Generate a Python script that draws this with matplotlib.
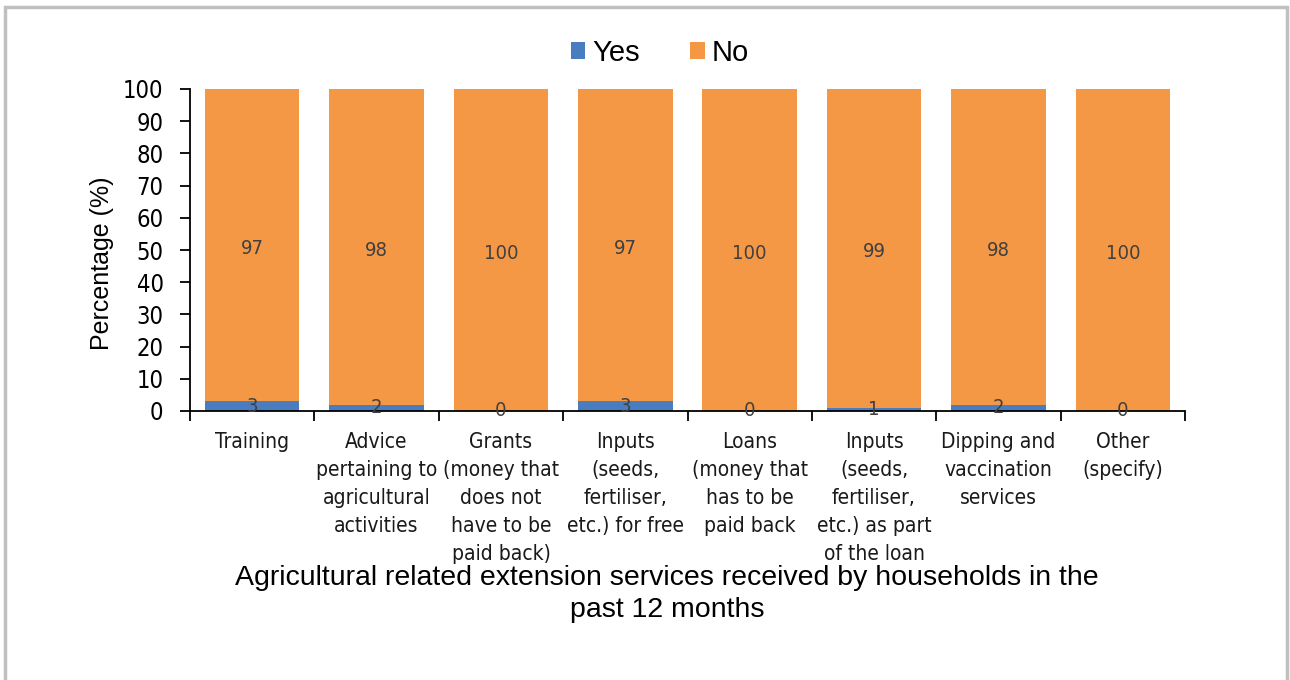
import matplotlib
matplotlib.use("Agg")
import matplotlib.pyplot as plt
from matplotlib.patches import Rectangle
import numpy as np

categories = [
    "Training",
    "Advice\npertaining to\nagricultural\nactivities",
    "Grants\n(money that\ndoes not\nhave to be\npaid back)",
    "Inputs\n(seeds,\nfertiliser,\netc.) for free",
    "Loans\n(money that\nhas to be\npaid back",
    "Inputs\n(seeds,\nfertiliser,\netc.) as part\nof the loan",
    "Dipping and\nvaccination\nservices",
    "Other\n(specify)",
]
yes_vals = [3, 2, 0, 3, 0, 1, 2, 0]
no_vals = [97, 98, 100, 97, 100, 99, 98, 100]
yticks = list(range(0, 101, 10))

blue = "#4A7DC0"
orange = "#F59845"
label_col = "#404040"

fig = plt.figure(figsize=(12.9, 6.8), dpi=100)
ax = fig.add_axes([190/1290, 1-411/680, (1185-190)/1290, (411-89)/680])

x = np.arange(len(categories))
w = 0.76
b1 = ax.bar(x, yes_vals, w, color=blue, label="Yes")
b2 = ax.bar(x, no_vals, w, bottom=yes_vals, color=orange, label="No")

for xi, v in zip(x, yes_vals):
    ax.text(xi, v/2, f"{v}", ha="center", va="center", fontsize=14.5,
            color=label_col, fontstretch="condensed")
for xi, y0, v in zip(x, yes_vals, no_vals):
    ax.text(xi, y0 + v/2 - 1, f"{v}", ha="center", va="center", fontsize=14.5,
            color=label_col, fontstretch="condensed")

ax.set_xlim(-0.5, len(categories)-0.5)
ax.set_ylim(0, 100)
ax.set_yticks(yticks)
ax.set_yticklabels([str(t) for t in yticks], fontsize=17, fontstretch="condensed")
ax.set_xticks(np.arange(len(categories)+1) - 0.5)
ax.set_xticklabels([])
ax.tick_params(axis="x", length=7, width=1.3, direction="out")
ax.tick_params(axis="y", length=7, width=1.3, direction="out", pad=12)
for xi, c in zip(x, categories):
    ax.text(xi, -6.6, c, ha="center", va="top", fontsize=15,
            fontstretch="condensed", linespacing=1.5,
            transform=ax.transData, color="#1a1a1a")

for s in ["top", "right"]:
    ax.spines[s].set_visible(False)
ax.spines["left"].set_linewidth(1.3)
ax.spines["bottom"].set_linewidth(1.3)

ax.set_ylabel("Percentage (%)", fontsize=18, family="Liberation Sans")
ax.yaxis.set_label_coords(-0.076, 0.46)

leg = fig.legend(handles=[b1, b2], labels=["Yes", "No"], loc="center",
                 bbox_to_anchor=(660/1290, 1-53/680), ncol=2, frameon=False,
                 prop=dict(family="Liberation Sans", size=21),
                 handlelength=0.5, handleheight=0.5, handletextpad=0.25,
                 columnspacing=1.7)

fig.text(667/1290, 1-594/680,
         "Agricultural related extension services received by households in the\npast 12 months",
         ha="center", va="center", fontsize=20.5, family="Liberation Sans",
         linespacing=1.3)

# outer border
fig.patches.append(Rectangle((5/1290, -0.01), (1287-5)/1290, 1-7/680+0.01,
                             transform=fig.transFigure, fill=False,
                             edgecolor="#c0c0c0", linewidth=2.5))

fig.savefig("out.png", dpi=100)
